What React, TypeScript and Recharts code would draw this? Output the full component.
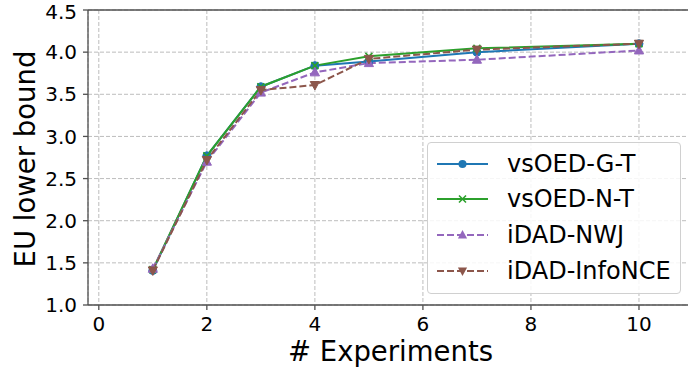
import React from 'react';
import { LineChart, Line, XAxis, YAxis, CartesianGrid, Legend, ReferenceLine, Label } from 'recharts';

const experiments = [1, 2, 3, 4, 5, 7, 10];
const vsoedGT = [1.41, 2.77, 3.59, 3.84, 3.89, 4.0, 4.1];
const vsoedNT = [1.42, 2.77, 3.59, 3.84, 3.95, 4.045, 4.1];
const idadNWJ = [1.43, 2.7, 3.52, 3.76, 3.87, 3.91, 4.02];
const idadInfoNCE = [1.41, 2.72, 3.55, 3.61, 3.92, 4.03, 4.1];
const xTicks = [0, 2, 4, 6, 8, 10];
const yTicks = [1.0, 1.5, 2.0, 2.5, 3.0, 3.5, 4.0, 4.5];

const data = experiments.map((x, i) => ({
  x,
  gt: vsoedGT[i],
  nt: vsoedNT[i],
  nwj: idadNWJ[i],
  nce: idadInfoNCE[i],
}));

const BLUE = '#1f77b4';
const GREEN = '#2ca02c';
const PURPLE = '#9467bd';
const BROWN = '#8c564b';
const FONT = '"DejaVu Sans", sans-serif';
const SPINE = '#505050';

const Circle = (color: string) => (p: any) => (
  <circle key={`c${p.index}`} cx={p.cx} cy={p.cy} r={4} fill={color} stroke={color} />
);
const Cross = (color: string) => (p: any) => (
  <path
    key={`x${p.index}`}
    d={`M${p.cx - 3.5},${p.cy - 3.5}L${p.cx + 3.5},${p.cy + 3.5}M${p.cx - 3.5},${p.cy + 3.5}L${p.cx + 3.5},${p.cy - 3.5}`}
    stroke={color}
    strokeWidth={1.6}
    fill="none"
  />
);
const TriUp = (color: string) => (p: any) => (
  <path
    key={`u${p.index}`}
    d={`M${p.cx},${p.cy - 5}L${p.cx + 4.6},${p.cy + 3.5}L${p.cx - 4.6},${p.cy + 3.5}Z`}
    fill={color}
    stroke={color}
  />
);
const TriDown = (color: string) => (p: any) => (
  <path
    key={`d${p.index}`}
    d={`M${p.cx},${p.cy + 5}L${p.cx + 4.6},${p.cy - 3.5}L${p.cx - 4.6},${p.cy - 3.5}Z`}
    fill={color}
    stroke={color}
  />
);

const legendItems = [
  { name: 'vsOED-G-T', color: BLUE, dash: false, marker: 'circle' },
  { name: 'vsOED-N-T', color: GREEN, dash: false, marker: 'x' },
  { name: 'iDAD-NWJ', color: PURPLE, dash: true, marker: 'up' },
  { name: 'iDAD-InfoNCE', color: BROWN, dash: true, marker: 'down' },
];

const LegendMarker = ({ kind, color }: { kind: string; color: string }) => {
  const cx = 25.5;
  const cy = 10;
  if (kind === 'circle') return <circle cx={cx} cy={cy} r={4} fill={color} />;
  if (kind === 'x')
    return (
      <path
        d={`M${cx - 3.5},${cy - 3.5}L${cx + 3.5},${cy + 3.5}M${cx - 3.5},${cy + 3.5}L${cx + 3.5},${cy - 3.5}`}
        stroke={color}
        strokeWidth={1.6}
      />
    );
  if (kind === 'up')
    return <path d={`M${cx},${cy - 5}L${cx + 4.6},${cy + 3.5}L${cx - 4.6},${cy + 3.5}Z`} fill={color} />;
  return <path d={`M${cx},${cy + 5}L${cx + 4.6},${cy - 3.5}L${cx - 4.6},${cy - 3.5}Z`} fill={color} />;
};

const LegendBox = () => (
  <div
    style={{
      boxSizing: 'border-box',
      width: 254,
      padding: '3px 0 5px 9px',
      border: '1px solid #d0d0d0',
      borderRadius: 4,
      background: 'rgba(255,255,255,0.85)',
      fontFamily: FONT,
      fontSize: 24,
      color: '#000',
    }}
  >
    {legendItems.map((it) => (
      <div key={it.name} style={{ display: 'flex', alignItems: 'center', height: 35.6 }}>
        <svg width={51} height={20} style={{ display: 'block' }}>
          <line
            x1={0}
            y1={10}
            x2={51}
            y2={10}
            stroke={it.color}
            strokeWidth={2}
            strokeDasharray={it.dash ? '7 3' : undefined}
          />
          <LegendMarker kind={it.marker} color={it.color} />
        </svg>
        <span style={{ marginLeft: 19, lineHeight: '24px' }}>{it.name}</span>
      </div>
    ))}
  </div>
);

const YLabel = () => (
  <text
    x={35}
    y={159}
    transform="rotate(-90, 35, 159)"
    textAnchor="middle"
    fontFamily={FONT}
    fontSize={27.5}
    fill="#000"
  >
    EU lower bound
  </text>
);

export default function App() {
  return (
    <div
      style={{
        position: 'absolute',
        left: 0,
        top: 0,
        width: 688,
        height: 372,
        overflow: 'hidden',
        background: '#fff',
        fontFamily: FONT,
      }}
    >
      <LineChart width={700} height={372} data={data} margin={{ top: 10, right: 7, left: 0, bottom: 0 }}>
        <CartesianGrid stroke="#bdbdbd" strokeDasharray="4 2" strokeWidth={1} />
        <XAxis
          dataKey="x"
          type="number"
          domain={[-0.2, 11]}
          ticks={xTicks}
          allowDataOverflow
          height={67}
          tickSize={5}
          tickMargin={7}
          stroke={SPINE}
          strokeWidth={1.3}
          tick={{ fontSize: 20, fill: '#000', fontFamily: FONT }}
          tickLine={{ stroke: SPINE }}
        >
          <Label
            value="# Experiments"
            position="insideBottom"
            offset={11}
            style={{ fontSize: 27.5, fill: '#000', fontFamily: FONT }}
          />
        </XAxis>
        <YAxis
          type="number"
          domain={[1, 4.5]}
          ticks={yTicks}
          allowDataOverflow
          width={88}
          tickSize={5}
          tickMargin={6}
          stroke={SPINE}
          strokeWidth={1.3}
          tickFormatter={(v: number) => v.toFixed(1)}
          tick={{ fontSize: 20, fill: '#000', fontFamily: FONT }}
          tickLine={{ stroke: SPINE }}
          label={<YLabel />}
        />
        <ReferenceLine y={4.5} stroke={SPINE} strokeWidth={1.3} />
        <Line
          dataKey="gt"
          stroke={BLUE}
          strokeWidth={2}
          dot={Circle(BLUE)}
          activeDot={false}
          isAnimationActive={false}
        />
        <Line
          dataKey="nt"
          stroke={GREEN}
          strokeWidth={2}
          dot={Cross(GREEN)}
          activeDot={false}
          isAnimationActive={false}
        />
        <Line
          dataKey="nwj"
          stroke={PURPLE}
          strokeWidth={2}
          strokeDasharray="7 3"
          dot={TriUp(PURPLE)}
          activeDot={false}
          isAnimationActive={false}
        />
        <Line
          dataKey="nce"
          stroke={BROWN}
          strokeWidth={2}
          strokeDasharray="7 3"
          dot={TriDown(BROWN)}
          activeDot={false}
          isAnimationActive={false}
        />
        <Legend
          layout="horizontal"
          verticalAlign="middle"
          align="center"
          content={() => <LegendBox />}
          wrapperStyle={{ position: 'absolute', left: 427, top: 142, width: 254, height: 'auto' }}
        />
      </LineChart>
    </div>
  );
}
